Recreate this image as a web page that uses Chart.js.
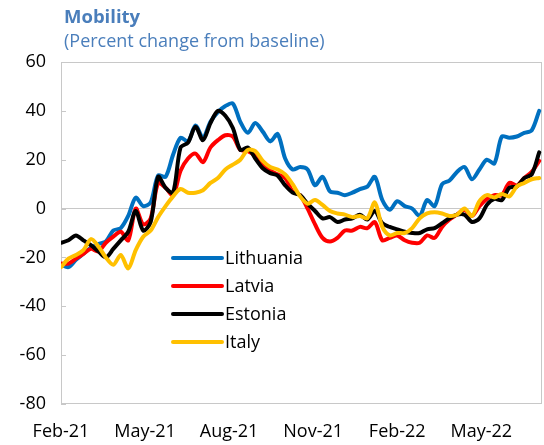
<!DOCTYPE html>
<html>

<head>
    <title>Mobility</title>
    <style>
        body { margin: 0; background: #fff; }
        #wrap { position: relative; width: 544px; height: 445px; }
        #title { position: absolute; left: 64px; top: 3px; font: bold 18.5px 'Open Sans'; color: #4a7ebb; }
        #subtitle { position: absolute; left: 64px; top: 28px; font: 18px 'Open Sans'; color: #4a7ebb; }
    </style>
</head>

<body>
    <div id="wrap">
        <canvas id="myChart" width="544" height="445"></canvas>
        <div id="title">Mobility</div>
        <div id="subtitle">(Percent change from baseline)</div>
    </div>
    <script src="https://cdn.jsdelivr.net/npm/chart.js@4.4.1/dist/chart.umd.min.js"></script>
    <script>
    // days counted from the first observation (Feb-21)
    var days = [0, 8, 16, 24, 32, 40, 48, 56, 64, 72, 80, 88, 96, 104, 112, 120, 128, 136, 144, 152,
        160, 168, 176, 184, 192, 200, 208, 216, 224, 232, 240, 248, 256, 264, 272, 280, 288, 296, 304, 312,
        320, 328, 336, 344, 352, 360, 368, 376, 384, 392, 400, 408, 416, 424, 432, 440, 448, 456, 464, 472,
        480, 488, 496, 504, 512];

    var lithuania = [-23, -24, -21, -18.5, -16, -14.5, -13.5, -9, -8, -3, 4.5, 1, 2.5, 13.5, 13, 22, 29, 27.5, 34, 29,
        35.5, 39.5, 42, 43, 35.5, 31, 35, 31.5, 27.5, 30.5, 20.5, 16, 17, 16, 9.5, 13, 7, 6.5, 5.5, 6.5,
        8, 9, 13, 3.5, -0.5, 3, 1, 0, -3, 3.5, 1, 10, 11.5, 15, 17, 12, 16, 20, 18.5, 29.5,
        29, 29.5, 31, 32, 40];
    var latvia = [-22.5, -22.5, -20.5, -18.5, -16.5, -17.5, -14, -11.5, -9.5, -13, 0, -6.5, -4, 10.5, 8.5, 5.5, 15.5, 20.5, 22.5, 19,
        25, 28, 30, 29.5, 24, 23.5, 21.5, 18, 15.5, 14, 12.5, 7, 5.5, 0, -6.5, -12, -13.5, -12, -9, -9,
        -7.5, -8, -5.5, -13, -12, -11, -13, -14, -14, -11, -12, -7.5, -4.5, -2.5, -0.5, -3, 1, 4, 5.5, 5.5,
        10.5, 9.5, 12.5, 15, 19.5];
    var estonia = [-14, -13, -11, -13, -15, -17.5, -20, -16.5, -13, -9.5, -1, -9, -5.5, 13, 8.5, 6.5, 25, 27, 33.5, 28,
        35, 40, 38, 33, 24, 25, 20.5, 16.5, 14.5, 13.5, 9.5, 6.5, 5.5, 2, -1, -4, -3.5, -5.5, -4.5, -4,
        -2.5, -4.5, -1, -6, -7.5, -8.5, -9.5, -10, -10, -8.5, -8, -6, -4, -2.5, -2.5, -5.5, -4, 1.5, 4, 3.5,
        8.5, 9, 12.5, 14, 23];
    var italy = [-24, -20.5, -19, -17, -12.5, -15.5, -20, -23, -19, -24.5, -17, -11.5, -9, -3.5, 1, 5, 8, 6.5, 6.5, 7.5,
        10.5, 12.5, 16, 18, 20, 24, 23.5, 19.5, 17, 16, 14, 10, 5, 2, 3.5, 1.5, -1, -2, -2.5, -3.5,
        -3, -4, 2.5, -7.5, -11, -10, -10, -8, -4, -2, -1.5, -2, -3, -2.5, 0, -3, 3, 5.5, 4.5, 6,
        5, 9, 10.5, 12, 12.5];

    var tickDays = [0, 90, 180, 270, 360, 450];
    var tickLabels = ["Feb-21", "May-21", "Aug-21", "Nov-21", "Feb-22", "May-22"];
    var yTicks = [60, 40, 20, 0, -20, -40, -60, -80];

    var seriesNames = ["Lithuania", "Latvia", "Estonia", "Italy"];
    var seriesColors = ["#0070c0", "#ff0000", "#000000", "#ffc000"];
    var seriesValues = [lithuania, latvia, estonia, italy];

    var FONT = "'Open Sans', 'Noto Sans', sans-serif";

    function pairs(vals) {
        return vals.map(function (v, i) { return { x: days[i], y: v }; });
    }

    // frame, small inside ticks on the left edge
    var framePlugin = {
        id: 'frame',
        beforeDatasetsDraw: function (chart) {
            var a = chart.chartArea, c = chart.ctx, y = chart.scales.y;
            c.save();
            c.strokeStyle = '#c8c8c8';
            c.lineWidth = 1;
            c.strokeRect(a.left + 0.5, a.top + 0.5, a.right - a.left - 1, a.bottom - a.top - 1);
            c.beginPath();
            yTicks.forEach(function (t) {
                var py = Math.round(y.getPixelForValue(t)) + 0.5;
                c.moveTo(a.left, py);
                c.lineTo(a.left + 5, py);
            });
            c.stroke();
            c.restore();
        }
    };

    // legend drawn inside the plot
    var legendPlugin = {
        id: 'innerLegend',
        afterDatasetsDraw: function (chart) {
            var a = chart.chartArea, c = chart.ctx;
            var x0 = a.left + 112, y0 = a.top + 196, step = 28;
            c.save();
            c.font = "18px " + FONT;
            c.textBaseline = 'middle';
            chart.data.datasets.forEach(function (ds, i) {
                var y = y0 + i * step;
                c.strokeStyle = ds.borderColor;
                c.lineWidth = 4;
                c.lineCap = 'round';
                c.beginPath();
                c.moveTo(x0, y);
                c.lineTo(x0 + 49, y);
                c.stroke();
                c.fillStyle = '#000';
                c.fillText(ds.label, x0 + 52, y + 1);
            });
            c.restore();
        }
    };

    var ctx = document.getElementById('myChart').getContext('2d');
    var chart = new Chart(ctx, {
        type: 'line',
        data: {
            datasets: seriesNames.map(function (name, i) {
                return {
                    label: name,
                    data: pairs(seriesValues[i]),
                    borderColor: seriesColors[i],
                    backgroundColor: seriesColors[i],
                    order: 4 - i
                };
            })
        },
        options: {
            responsive: false,
            animation: false,
            layout: { padding: { top: 62, right: 2, left: 0, bottom: 0 } },
            elements: {
                point: { radius: 0 },
                line: { borderWidth: 4, tension: 0.3, borderJoinStyle: 'round', borderCapStyle: 'round' }
            },
            plugins: {
                legend: { display: false },
                tooltip: { enabled: false }
            },
            scales: {
                x: {
                    type: 'linear',
                    min: 0,
                    max: 515,
                    afterBuildTicks: function (s) { s.ticks = tickDays.map(function (v) { return { value: v }; }); },
                    afterFit: function (s) { s.height = 41; },
                    ticks: {
                        autoSkip: false,
                        maxRotation: 0,
                        padding: 17,
                        color: '#000',
                        font: { family: FONT, size: 18 },
                        callback: function (v) { return tickLabels[tickDays.indexOf(v)]; }
                    },
                    grid: { display: false, drawTicks: false },
                    border: { display: false }
                },
                y: {
                    min: -80,
                    max: 60,
                    afterFit: function (s) { s.width = 61; },
                    ticks: {
                        stepSize: 20,
                        padding: 15,
                        color: '#000',
                        font: { family: FONT, size: 18 }
                    },
                    grid: {
                        drawTicks: false,
                        color: function (c) { return c.tick && c.tick.value === 0 ? '#c8c8c8' : 'rgba(0,0,0,0)'; }
                    },
                    border: { display: false }
                }
            }
        },
        plugins: [framePlugin, legendPlugin]
    });
    </script>
</body>

</html>
